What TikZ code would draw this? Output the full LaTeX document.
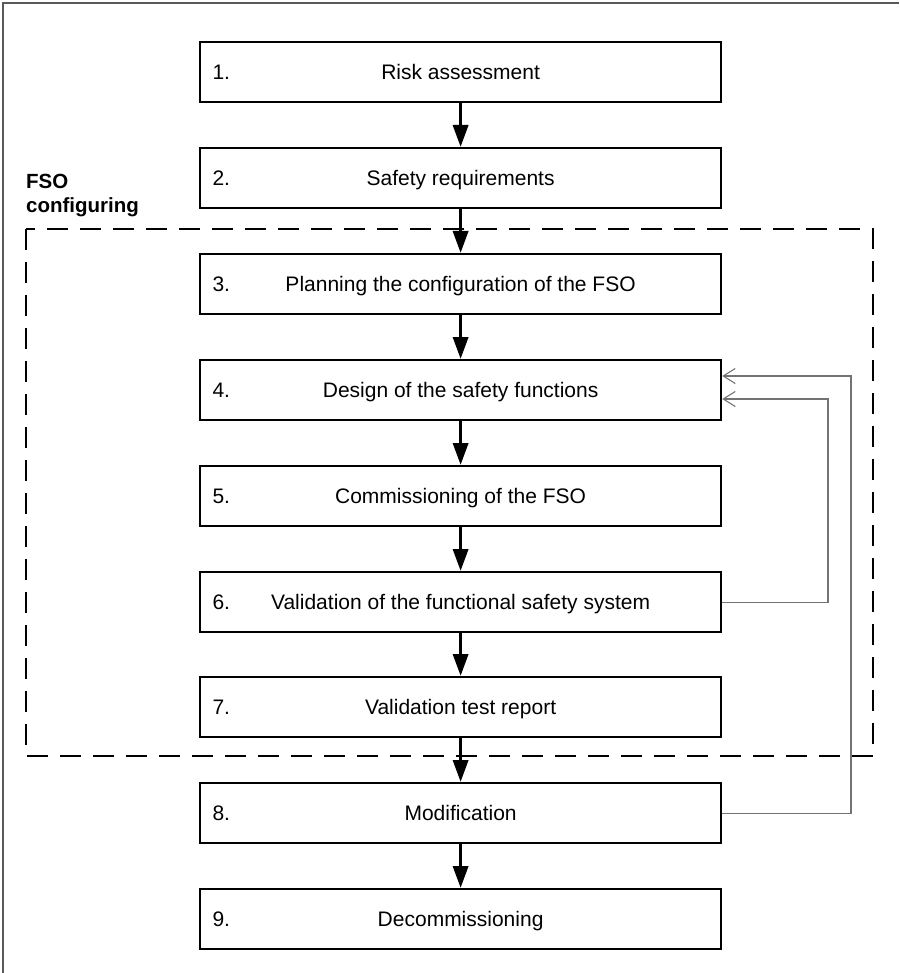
\documentclass[tikz,border=0pt]{standalone}
\usepackage{fontspec}
\setmainfont{Liberation Sans}
\usetikzlibrary{arrows.meta}
\begin{document}
\begin{tikzpicture}[x=1pt,y=-1pt,
  txt/.style={font=\fontsize{21pt}{25pt}\selectfont},
  stepbox/.style={txt, draw=black, line width=2.2pt, minimum width=521pt, minimum height=60pt,
    inner sep=0pt, text height=15pt, text depth=0pt, anchor=north west},
  num/.style={label={[txt, anchor=west, text height=15pt, text depth=0pt, xshift=10pt]west:#1}},
  flow/.style={line width=3.5pt, -{Triangle[length=22pt,width=15pt]}},
  fb/.style={draw=black!55, line width=1.1pt, -{Straight Barb[length=12pt,width=15pt,line width=1.1pt]}},
  grp/.style={dash pattern=on 21pt off 12pt, line width=2pt}]
\useasboundingbox (0,0) rectangle (899,973);
\draw[black!65, line width=1.5pt] (3,973) -- (3,3) -- (899,3);
% dashed group
\draw[grp] (26,229) rectangle (873,756);
\node[txt, font=\fontsize{20.5pt}{25pt}\selectfont\bfseries, anchor=base west, inner sep=0pt] (g1) at (26,189) {FSO};
\node[txt, font=\fontsize{20.5pt}{25pt}\selectfont\bfseries, anchor=base west, inner sep=0pt] (g2) at (26,213) {configuring};
% boxes
\node[stepbox, num=1.] (b1) at (199,41)  {Risk assessment};
\node[stepbox, num=2.] (b2) at (199,147) {Safety requirements};
\node[stepbox, num=3.] (b3) at (199,253) {Planning the configuration of the FSO};
\node[stepbox, num=4.] (b4) at (199,359) {Design of the safety functions};
\node[stepbox, num=5.] (b5) at (199,465) {Commissioning of the FSO};
\node[stepbox, num=6.] (b6) at (199,571) {Validation of the functional safety system};
\node[stepbox, num=7.] (b7) at (199,676) {Validation test report};
\node[stepbox, num=8.] (b8) at (199,782) {Modification};
\node[stepbox, num=9.] (b9) at (199,888) {Decommissioning};
% flow arrows
\foreach \a/\b in {b1/b2,b2/b3,b3/b4,b4/b5,b5/b6,b6/b7,b7/b8,b8/b9}
  \draw[flow] (\a.south) -- (\b.north);
% feedback
\coordinate (c1) at (851,376);
\coordinate (c2) at (828,399);
\draw[fb] (b8.east) -| (c1) -- (c1 -| b4.east);
\draw[fb] (b6.east) -| (c2) -- (c2 -| b4.east);
\end{tikzpicture}
\end{document}
